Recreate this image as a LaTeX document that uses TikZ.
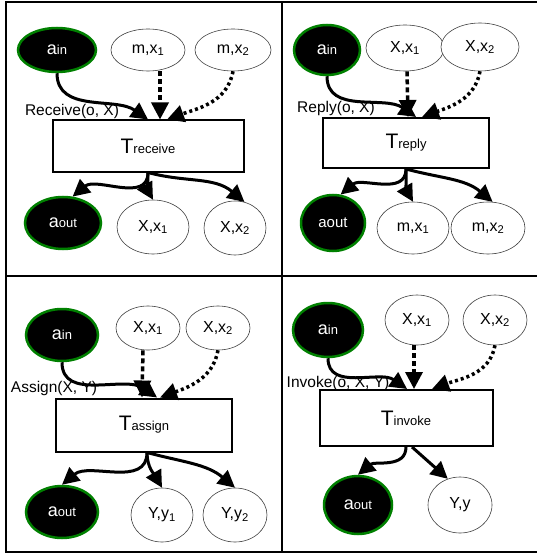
\documentclass[tikz,border=0pt]{standalone}
\usepackage{fontspec}
\setmainfont{Liberation Sans}
\usetikzlibrary{shapes.geometric, arrows.meta}

\newcommand{\actname}[1]{{\fontsize{18}{18}\selectfont a}{\fontsize{13}{13}\selectfont #1}}
\newcommand{\transname}[1]{{\fontsize{21}{21}\selectfont T}{\fontsize{13}{13}\selectfont #1}}

\begin{document}
\begin{tikzpicture}[x=1pt, y=-1pt,
	token/.style = { ellipse, draw=black!75, line width=0.6pt, fill=white,
	inner sep=0pt, font=\fontsize{16}{16}\selectfont },
	act/.style = { ellipse, draw=green!50!black, line width=2.5pt, fill=black,
	text=white, inner sep=0pt },
	trans/.style = { rectangle, draw=black, line width=2pt, fill=white,
	inner sep=0pt },
	opname/.style = { font=\fontsize{15.5}{15.5}\selectfont, inner sep=0pt },
	flow/.style = { line width=3pt, -{Triangle[length=17pt 0, width=17pt 0]} },
	copyflow/.style = { flow, line width=3.5pt, dash pattern=on 5pt off 3pt },
	varflow/.style = { flow, line width=3.5pt, dash pattern=on 3pt off 3pt } ]

  \useasboundingbox (0,0) rectangle (537,556);
  % frame
  \draw [line width=2.5pt] (537,2) -- (6,2) -- (6,552) -- (537,552);
  \draw [line width=2.5pt] (282,2) -- (282,552);
  \draw [line width=2.5pt] (6,276) -- (537,276);

  % receive
  \node [name=rin, act, minimum width=78pt, minimum height=44pt] at (57,50) {\actname{in}};
  \node [name=rm1, token, minimum width=74pt, minimum height=42pt] at (148,50) {m,x\textsubscript{1}};
  \node [name=rm2, token, minimum width=76pt, minimum height=42pt] at (233,50) {m,x\textsubscript{2}};
  \node [name=rT, trans, minimum width=191pt, minimum height=51pt] at (148,146) {\transname{receive}};
  \node [name=rlab, opname] at (72,111) {Receive(o, X)};
  \node [name=rout, act, minimum width=76pt, minimum height=52pt] at (63,223) {\actname{out}};
  \node [name=rx1, token, minimum width=72pt, minimum height=54pt] at (153,227) {X,x\textsubscript{1}};
  \node [name=rx2, token, minimum width=62pt, minimum height=54pt] at (235,228) {X,x\textsubscript{2}};
  \draw [flow] (rin.south) to [out=-90, in=145] (rT.north);
  \draw [copyflow] ([xshift=12pt]rm1.south) -- ([xshift=12pt]rT.north);
  \draw [varflow] (rm2.south) to [out=-100, in=20] ([xshift=19pt]rT.north);
  \draw [flow] (rT.south) to [out=-90, in=40] (rout.70);
  \draw [flow] (rT.south) to [out=-90, in=120] (rx1.north);
  \draw [flow] (rT.south) to [out=-15, in=140] (rx2.70);

  % reply
  \node [name=pin, act, minimum width=66pt, minimum height=50pt] at (327,50) {\actname{in}};
  \node [name=px1, token, minimum width=78pt, minimum height=46pt] at (405,48) {X,x\textsubscript{1}};
  \node [name=px2, token, minimum width=78pt, minimum height=48pt] at (480,47) {X,x\textsubscript{2}};
  \node [name=pT, trans, minimum width=166pt, minimum height=50pt] at (406,143) {\transname{reply}};
  \node [name=plab, opname] at (336,108) {Reply(o, X)};
  \node [name=pout, act, minimum width=64pt, minimum height=56pt, font=\fontsize{15}{15}\selectfont] at (333,223) {aout};
  \node [name=pm1, token, minimum width=72pt, minimum height=52pt] at (413,228) {m,x\textsubscript{1}};
  \node [name=pm2, token, minimum width=74pt, minimum height=52pt] at (488,228) {m,x\textsubscript{2}};
  \draw [flow] (pin.south) to [out=-90, in=145] ([xshift=10pt]pT.north);
  \draw [copyflow] ([xshift=2pt]px1.south) -- ([xshift=2pt]pT.north);
  \draw [varflow] (px2.south) to [out=-100, in=20] ([xshift=16pt]pT.north);
  \draw [flow] (pT.south) to [out=-90, in=40] (pout.75);
  \draw [flow] (pT.south) to [out=-90, in=120] (pm1.north);
  \draw [flow] (pT.south) to [out=-15, in=140] (pm2.80);

  % assign
  \node [name=ain, act, minimum width=72pt, minimum height=52pt] at (62,335) {\actname{in}};
  \node [name=ax1, token, minimum width=64pt, minimum height=44pt] at (148,328) {X,x\textsubscript{1}};
  \node [name=ax2, token, minimum width=64pt, minimum height=44pt] at (218,328) {X,x\textsubscript{2}};
  \node [name=aT, trans, minimum width=176pt, minimum height=53pt] at (144,425) {\transname{assign}};
  \node [name=alab, opname] at (54,388) {Assign(X, Y)};
  \node [name=aout, act, minimum width=72pt, minimum height=52pt] at (62,512) {\actname{out}};
  \node [name=ay1, token, minimum width=62pt, minimum height=54pt] at (162,515) {Y,y\textsubscript{1}};
  \node [name=ay2, token, minimum width=64pt, minimum height=54pt] at (235,515) {Y,y\textsubscript{2}};
  \draw [flow] (ain.south) to [out=-90, in=145] ([xshift=13pt]aT.north);
  \draw [copyflow] ([xshift=-5pt]ax1.south) -- ([xshift=-2pt]aT.north);
  \draw [varflow] (ax2.south) to [out=-100, in=20] ([xshift=16pt]aT.north);
  \draw [flow] ([xshift=3pt]aT.south) to [out=-90, in=40] (aout.north);
  \draw [flow] ([xshift=3pt]aT.south) to [out=-90, in=120] (ay1.north);
  \draw [flow] ([xshift=3pt]aT.south) to [out=-15, in=140] (ay2.north);

  % invoke
  \node [name=iin, act, minimum width=70pt, minimum height=54pt] at (328,330) {\actname{in}};
  \node [name=ix1, token, minimum width=64pt, minimum height=50pt] at (417,320) {X,x\textsubscript{1}};
  \node [name=ix2, token, minimum width=64pt, minimum height=50pt] at (495,320) {X,x\textsubscript{2}};
  \node [name=iT, trans, minimum width=173pt, minimum height=56pt] at (406,418) {\transname{invoke}};
  \node [name=ilab, opname] at (338,383) {Invoke(o, X, Y)};
  \node [name=iout, act, minimum width=68pt, minimum height=58pt] at (358,505) {\actname{out}};
  \node [name=iy, token, minimum width=64pt, minimum height=56pt] at (460,505) {Y,y};
  \draw [flow] (iin.south) to [out=-90, in=145] ([xshift=1pt]iT.north);
  \draw [copyflow] ([xshift=-3pt]ix1.south) -- ([xshift=8pt]iT.north);
  \draw [varflow] (ix2.south) to [out=-100, in=20] ([xshift=26pt]iT.north);
  \draw [flow] (iT.south) to [out=-90, in=40] (iout.north);
  \draw [flow] ([xshift=6pt]iT.south) -- (iy.115);
\end{tikzpicture}
\end{document}
